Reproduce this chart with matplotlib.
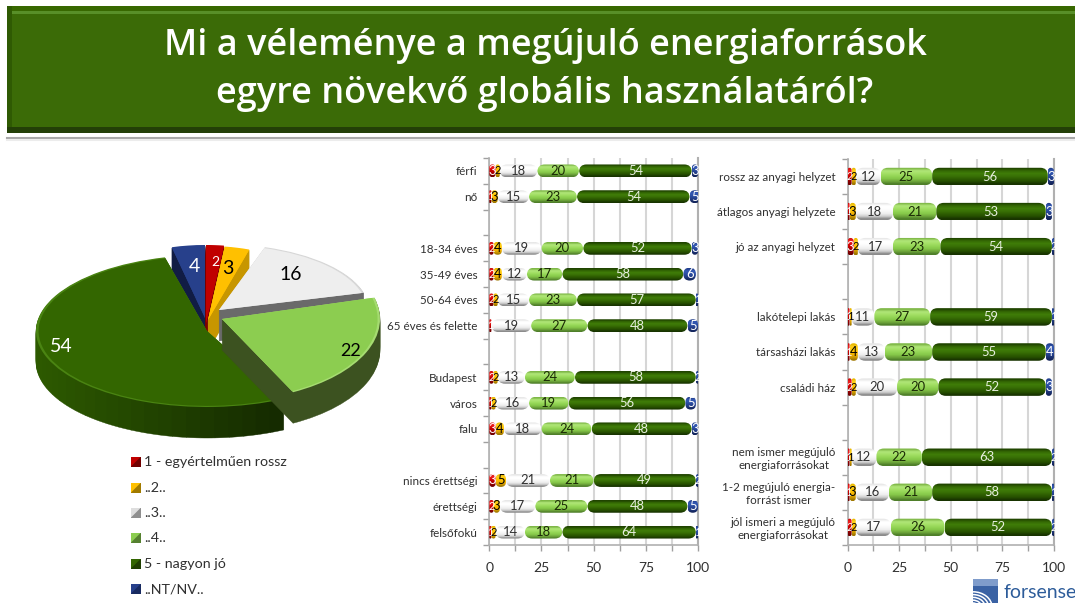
import numpy as np
import matplotlib
matplotlib.use('Agg')
import matplotlib.pyplot as plt
from matplotlib.patches import Rectangle, Wedge, FancyBboxPatch, Polygon, Arc
from matplotlib.transforms import Affine2D
from matplotlib.colors import to_rgb

plt.rcParams['font.family'] = ['Lato', 'Open Sans', 'DejaVu Sans']

W, H = 1075, 603

title = 'Mi a véleménye a megújuló energiaforrások\negyre növekvő globális használatáról?'

# pie values, clockwise from 12 o'clock
pie_names = ['1 - egyértelműen rossz', '..2..', '..3..', '..4..', '5 - nagyon jó', '..NT/NV..']
pie_values = [2, 3, 16, 22, 54, 4]

# left chart
left_labels = ['férfi', 'nő', '', '18-34 éves', '35-49 éves', '50-64 éves', '65 éves és felette', '',
               'Budapest', 'város', 'falu', '', 'nincs érettségi', 'érettségi', 'felsőfokú']
left_1 = [3, 1, 0, 2, 2, 2, 1, 0, 2, 1, 3, 0, 3, 2, 1]
left_2 = [2, 3, 0, 4, 4, 2, 0, 0, 2, 2, 4, 0, 5, 3, 2]
left_3 = [18, 15, 0, 19, 12, 15, 19, 0, 13, 16, 18, 0, 21, 17, 14]
left_4 = [20, 23, 0, 20, 17, 23, 27, 0, 24, 19, 24, 0, 21, 25, 18]
left_5 = [54, 54, 0, 52, 58, 57, 48, 0, 58, 56, 48, 0, 49, 48, 64]
left_nt = [3, 5, 0, 3, 6, 1, 5, 0, 2, 5, 3, 0, 2, 5, 1]

# right chart
right_labels = ['rossz az anyagi helyzet', 'átlagos anyagi helyzete', 'jó az anyagi helyzet', '',
                'lakótelepi lakás', 'társasházi lakás', 'családi ház', '',
                'nem ismer megújuló\nenergiaforrásokat', '1-2 megújuló energia-\nforrást ismer',
                'jól ismeri a megújuló\nenergiaforrásokat']
right_1 = [2, 1, 3, 0, 1, 1, 2, 0, 1, 1, 2]
right_2 = [2, 3, 2, 0, 1, 4, 2, 0, 1, 3, 2]
right_3 = [12, 18, 17, 0, 11, 13, 20, 0, 12, 16, 17]
right_4 = [25, 21, 23, 0, 27, 23, 20, 0, 22, 21, 26]
right_5 = [56, 53, 54, 0, 59, 55, 52, 0, 63, 58, 52]
right_nt = [3, 3, 2, 0, 1, 4, 3, 0, 2, 1, 2]

x_ticks = [0, 25, 50, 75, 100]

# vertical gradients of the glossy bars, top to bottom
bar_grads = [
    ['#d01010', '#f02020', '#e01010', '#c80000', '#b00000', '#900000', '#700000'],
    ['#e8b800', '#ffd020', '#ffc800', '#ffc000', '#f0b000', '#d09a00', '#a07800'],
    ['#e8e8e8', '#ffffff', '#ffffff', '#f8f8f8', '#eeeeee', '#d0d0d0', '#8c8c8c'],
    ['#7fb848', '#b0e678', '#a4e066', '#94d656', '#86c84a', '#70a83c', '#4f7f2a'],
    ['#204400', '#356a04', '#3f7c08', '#3a7206', '#2f6002', '#264f00', '#183400'],
    ['#223f8c', '#3358b4', '#3054ac', '#2a4a9c', '#24408c', '#1c3272', '#13245a'],
]
bar_text = ['white', 'black', '#303030', '#1a2a05', '#e8f0e0', 'white']

fig = plt.figure(figsize=(W / 100, H / 100), dpi=100)

# whole figure axes in pixels, for header, pie and legend
bg = fig.add_axes([0, 0, 1, 1])
bg.set_xlim(0, W)
bg.set_ylim(H, 0)
bg.axis('off')

# header band
bg.add_patch(Rectangle((7, 6), W - 7, 127, fc='#3b6b07', ec='none'))
bg.add_patch(Rectangle((7, 6), W - 7, 5, fc='#386800', ec='none'))
bg.add_patch(Rectangle((12, 11), W - 12, 2.5, fc='#588f28', ec='none'))
bg.add_patch(Rectangle((7, 6), 5, 127, fc='#2f5a03', ec='none'))
bg.add_patch(Rectangle((7, 127), W - 7, 6, fc='#233f07', ec='none'))
bg.plot([7, W], [137.5, 137.5], color='#a8a8a8', lw=1.5)
bg.plot([7, W], [139.5, 139.5], color='#ececec', lw=1.5)
bg.text(545, 70, title, color='white', fontsize=26, fontweight='semibold', family=['Open Sans', 'DejaVu Sans'],
        ha='center', va='center', linespacing=1.42)

# pie: per slice tip position and radii (the 3D view squeezes the back of the pie)
pie_tips = [(206, 323), (208, 320), (219, 310), (222, 319), (207, 331), (205, 318)]
pie_rx = [145, 135, 150, 158, 171, 135]
pie_ry = [78, 74, 66, 82, 76, 73]
pie_top = ['#c00000', '#ffc000', '#eeeeee', '#8ccd50', '#336600', '#27408b']
pie_wall = ['#7a0000', '#c79600', '#6a6a6a', '#3c5220', '#2b5400', '#111c44']
pie_rim = ['#c00000', '#ffc000', '#d8d8d8', '#a5dc70', '#4a8412', '#27408b']
pie_depth = 31

fracs = np.cumsum([0] + pie_values) / sum(pie_values)
order = [5, 0, 1, 2, 4, 3]  # back to front
for i in order:
    t1 = 90 - 360 * fracs[i + 1]
    t2 = 90 - 360 * fracs[i]
    cx, cy = pie_tips[i]
    unit = Affine2D().scale(pie_rx[i], -pie_ry[i])
    if i == 4:
        # side of the big slice gets darker to the right
        edges = np.linspace(t1, t2, 41)
        for d in range(pie_depth, 0, -1):
            for k in range(40):
                mid = np.radians((edges[k] + edges[k + 1]) / 2)
                s = np.clip((np.cos(mid) + 1) / 1.4, 0, 1)
                col = (1 - s) * np.array(to_rgb('#2d5a00')) + s * np.array(to_rgb('#152b00'))
                w = Wedge((0, 0), 1, edges[k], edges[k + 1], fc=col, ec=col, lw=0.3,
                          transform=unit + Affine2D().translate(cx, cy + d) + bg.transData)
                bg.add_patch(w)
    else:
        for d in range(pie_depth, 0, -1):
            bg.add_patch(Wedge((0, 0), 1, t1, t2, fc=pie_wall[i], ec=pie_wall[i], lw=0.3,
                               transform=unit + Affine2D().translate(cx, cy + d) + bg.transData))
    place = Affine2D().translate(cx, cy) + bg.transData
    bg.add_patch(Wedge((0, 0), 1, t1, t2, fc=pie_rim[i], ec='none', transform=unit + place))
    bg.add_patch(Wedge((0, 0), 0.985, t1, t2, fc=pie_top[i], ec='none', transform=unit + place))

pie_lab_pos = [(215, 262), (228, 268), (291, 274), (351, 351), (61, 346), (194, 266)]
pie_lab_col = ['white', 'black', 'black', 'black', 'white', 'white']
pie_lab_size = [10, 14, 14, 13, 14, 14]
for v, p, c, s in zip(pie_values, pie_lab_pos, pie_lab_col, pie_lab_size):
    bg.text(p[0], p[1], str(v), color=c, fontsize=s, ha='center', va='center')

# legend
legend_y = [462, 488, 513, 538, 564, 589]
legend_dark = ['#700000', '#a07a00', '#8f8f8f', '#558030', '#1f3f00', '#182a60']
legend_light = ['#c00000', '#ffc000', '#dedede', '#8ccd50', '#336600', '#27408b']
for name, y, dk, lt in zip(pie_names, legend_y, legend_dark, legend_light):
    bg.add_patch(Rectangle((131, y - 5), 9.5, 9.5, fc=dk, ec='none'))
    bg.add_patch(Polygon([(131, y - 5), (140.5, y - 5), (131, y + 4.5)], fc=lt, ec='none'))
    bg.text(144, y, name, color='#303030', fontsize=10.3, ha='left', va='center')

# logo
logo = Rectangle((973, 579), 25, 24, fc='#3a62a4', ec='none')
bg.add_patch(logo)
bg.add_patch(Rectangle((973, 579), 25, 7, fc='#7f9ccb', ec='none'))
for r in [10, 17, 24, 31, 38]:
    a = Arc((973, 607), r, r * 0.8, theta1=180, theta2=360, color='white', lw=1.1)
    bg.add_patch(a)
    a.set_clip_path(logo)
bg.text(1004, 592, 'forsense', color='#2d5c9a', fontsize=14, ha='left', va='center', clip_on=False)


def bar_chart(box, labels, series, pad):
    x0, x1, y0, y1 = box
    ax = fig.add_axes([x0 / W, 1 - y1 / H, (x1 - x0) / W, (y1 - y0) / H])
    ax.patch.set_alpha(0)
    n = len(labels)
    rows = np.arange(n)
    px_x = (x1 - x0) / 100
    px_y = (y1 - y0) / n
    left = np.zeros(n)
    for s, vals in enumerate(series):
        vals = np.array(vals, dtype=float)
        bars = ax.barh(rows, vals, left=left, height=0.5)
        for r, v in zip(bars, vals):
            r.set_visible(False)
            if v == 0:
                continue
            bx, by, bw, bh = r.get_x(), r.get_y(), r.get_width(), r.get_height()
            rad = min(7.5 / px_x, bw / 2)
            shape = FancyBboxPatch((bx, by), bw, bh, boxstyle='round,pad=0,rounding_size=%f' % rad,
                                   mutation_aspect=px_x / px_y, fc='none', ec='none',
                                   transform=ax.transData)
            ax.add_patch(shape)
            grad = np.array([to_rgb(c) for c in bar_grads[s]]).reshape(-1, 1, 3)
            im = ax.imshow(grad, extent=(bx, bx + bw, by + bh, by), aspect='auto',
                           interpolation='bilinear', zorder=3)
            im.set_clip_path(shape)
            t = ax.text(bx + bw / 2, by + bh / 2, '%d' % v, color=bar_text[s],
                        fontsize=9.4 if v > 2 else 8, ha='center', va='center', zorder=4)
            if v <= 3:
                # tiny segments cut their own number, as in the original
                t.set_clip_path(shape)
        left = left + vals

    ax.set_xlim(0, 100)
    ax.set_ylim(n - 0.5, -0.5)
    ax.set_xticks(np.arange(0, 100.1, 12.5))
    ax.set_xticklabels([str(int(t)) if t in x_ticks else '' for t in np.arange(0, 100.1, 12.5)],
                       fontsize=10, color='#303030')
    ax.set_yticks(np.arange(-0.5, n))
    ax.set_yticklabels([])
    ax.set_yticks(rows, labels, minor=True, fontsize=8.4, color='#303030', multialignment='center')
    ax.tick_params(axis='y', which='minor', length=0, pad=pad)
    ax.tick_params(axis='both', which='major', length=4, width=1, color='#a0a0a0')
    ax.tick_params(axis='x', pad=8)
    ax.grid(axis='x', color='#d6d6d6', lw=1.5, zorder=0)
    ax.set_axisbelow(True)
    ax.spines['top'].set_visible(False)
    for sp in ['left', 'bottom', 'right']:
        ax.spines[sp].set_color('#b0b0b0')
    ax.spines['right'].set_linewidth(1.5)
    ax.spines['left'].set_linewidth(1.2)
    ax.spines['bottom'].set_linewidth(1.2)
    return ax


bar_chart((489.3, 698, 158, 545), left_labels, [left_1, left_2, left_3, left_4, left_5, left_nt], 8.5)
bar_chart((847.5, 1054, 159, 545), right_labels, [right_1, right_2, right_3, right_4, right_5, right_nt], 8.5)

fig.savefig('out.png', dpi=100)
